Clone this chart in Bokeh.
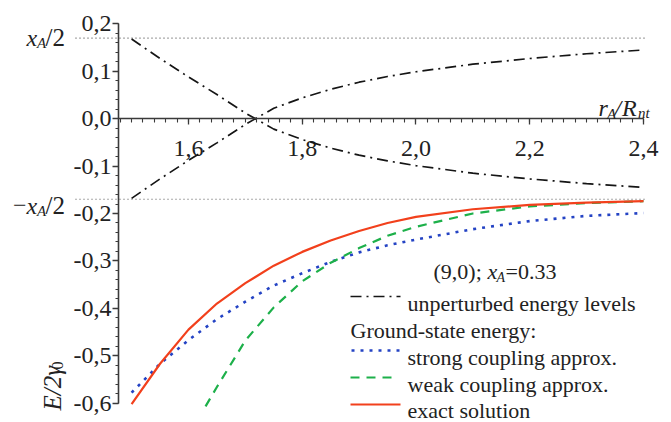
import numpy as np
from bokeh.plotting import figure
from bokeh.models import LinearAxis, FixedTicker, Range1d, Label
from bokeh.core.properties import value
from bokeh.embed import file_html
from bokeh.resources import INLINE

# ---------------- data ----------------
r_levels = [1.5, 1.55, 1.6, 1.65, 1.7, 1.75, 1.8, 1.85, 1.9, 1.95, 2.0, 2.1, 2.2, 2.3, 2.4]
level_rising = [-0.168, -0.127, -0.088, -0.051, -0.012, 0.022, 0.044, 0.062, 0.077, 0.089,
                0.099, 0.115, 0.127, 0.137, 0.145]
level_falling = [0.168, 0.127, 0.088, 0.051, 0.012, -0.022, -0.044, -0.062, -0.077, -0.089,
                 -0.099, -0.115, -0.127, -0.137, -0.145]

r_ground = [1.5, 1.55, 1.6, 1.65, 1.7, 1.75, 1.8, 1.85, 1.9, 1.95, 2.0, 2.1, 2.2, 2.3, 2.4]
strong_coupling = [-0.578, -0.517, -0.467, -0.423, -0.386, -0.352, -0.326, -0.302, -0.282,
                   -0.267, -0.255, -0.233, -0.216, -0.205, -0.199]
exact_solution = [-0.602, -0.517, -0.445, -0.390, -0.347, -0.310, -0.281, -0.257, -0.237,
                  -0.220, -0.207, -0.191, -0.182, -0.177, -0.174]
r_weak = [1.63, 1.65, 1.7, 1.75, 1.8, 1.85, 1.9, 1.95, 2.0, 2.1, 2.2, 2.3, 2.4]
weak_coupling = [-0.607, -0.566, -0.468, -0.398, -0.343, -0.304, -0.273, -0.247, -0.228,
                 -0.200, -0.185, -0.178, -0.174]

xA_half = 0.17
x_ticks = [1.6, 1.8, 2.0, 2.2, 2.4]
x_tick_labels = ["1,6", "1,8", "2,0", "2,2", "2,4"]
y_ticks = [0.2, 0.1, 0.0, -0.1, -0.2, -0.3, -0.4, -0.5, -0.6]
y_tick_labels = ["0,2", "0,1", "0,0", "-0,1", "-0,2", "-0,3", "-0,4", "-0,5", "-0,6"]
x_minor = [round(v, 2) for v in np.arange(1.48, 2.4001, 0.02)]
y_minor = [round(v, 2) for v in np.arange(-0.6, 0.2001, 0.02)]
y_axis_at = 1.477
x_axis_at = 0.0

# ---------------- layout (canvas pixels) ----------------
W, H = 671, 422
FL, FR, FT, FB = 12, 665, 12, 420         # frame edges
PX_X15, PX_PER_X = 131.1, 568.75          # pixel of r=1.5, pixels per unit
PX_Y0, PX_PER_Y = 118.2, 474.0            # pixel of E=0, pixels per unit
X0 = 1.5 - (PX_X15 - FL) / PX_PER_X
X1 = 1.5 + (FR - PX_X15) / PX_PER_X
Y1 = (PX_Y0 - FT) / PX_PER_Y
Y0 = -(FB - PX_Y0) / PX_PER_Y


def dx(px):
    return X0 + (px - FL) * (X1 - X0) / (FR - FL)


def dy(py):
    return Y1 - (py - FT) * (Y1 - Y0) / (FB - FT)


FONT = "Liberation Serif"
TXT = "#222222"
AX = "#3a3a3a"

p = figure(width=W, height=H, output_backend="svg", toolbar_location=None, title=None,
           x_range=Range1d(X0, X1), y_range=Range1d(Y0, Y1),
           x_axis_type=None, y_axis_type=None,
           min_border_left=FL, min_border_right=W - FR, min_border_top=FT,
           min_border_bottom=H - FB)
p.outline_line_color = None
p.background_fill_color = "white"
p.border_fill_color = "white"


def make_axis(loc, bnds, ticks, t_out, t_in, show_line):
    return LinearAxis(fixed_location=loc, bounds=bnds,
                      ticker=FixedTicker(ticks=[], minor_ticks=ticks),
                      axis_line_color=AX if show_line else None, axis_line_width=1.6,
                      major_tick_line_color=None, major_tick_in=0, major_tick_out=0,
                      minor_tick_line_color=AX,
                      minor_tick_line_width=1.3 if max(t_out, t_in) > 4 else 1.1,
                      minor_tick_in=t_in, minor_tick_out=t_out,
                      major_label_standoff=0, axis_label_standoff=0,
                      major_label_text_font_size="10px")


# y axis: long ticks at the labelled values, short ticks every 0.02 (both point left)
p.add_layout(make_axis(y_axis_at, (-0.6, 0.2), y_ticks, 6, 0, True), "left")
p.add_layout(make_axis(y_axis_at, (-0.6, 0.2), y_minor, 0, 3, False), "right")
# x axis at E = 0, all ticks pointing down (inward ticks of top-side axes)
p.add_layout(make_axis(x_axis_at, (y_axis_at, 2.4), x_ticks, 0, 6, True), "above")
p.add_layout(make_axis(x_axis_at, (y_axis_at, 2.4), x_minor, 0, 4, False), "above")

# tick labels
p.text(x=x_ticks, y=[dy(148)] * len(x_ticks), text=x_tick_labels,
       text_align="center", text_baseline="alphabetic",
       text_font=value(FONT), text_font_size="24px", text_color=TXT)
p.text(x=[dx(111)] * len(y_ticks), y=y_ticks, text=y_tick_labels,
       text_align="right", text_baseline="middle",
       text_font=value(FONT), text_font_size="24px", text_color=TXT)

# dotted reference levels +-x_A/2
for yv in (xA_half, -xA_half):
    p.line(x=[dx(75), dx(647)], y=[yv, yv], line_color="#555555", line_width=1.1,
           line_dash="1 3")

# unperturbed levels
DASHDOT = "11 5 2 5"
p.line(r_levels, level_rising, line_color="#151515", line_width=1.7, line_dash=DASHDOT)
p.line(r_levels, level_falling, line_color="#151515", line_width=1.7, line_dash=DASHDOT)

BLUE, GREEN, RED = "#2443c4", "#1db04a", "#f2401c"
DOTS = "3 6"
DASH = "9 7"
p.line(r_ground, strong_coupling, line_color=BLUE, line_width=2.6, line_dash=DOTS)
p.line(r_weak, weak_coupling, line_color=GREEN, line_width=2.2, line_dash=DASH)
p.line(r_ground, exact_solution, line_color=RED, line_width=2.2)


def lab(text, px, py, size="22px", style="normal", align="left", angle=0.0):
    p.add_layout(Label(x=dx(px), y=dy(py), text=text, text_font=FONT, text_font_size=size,
                       text_font_style=style, text_align=align, text_baseline="alphabetic",
                       text_color=TXT, angle=angle))


# +-x_A/2 labels
lab("x", 26, 37, "24px", "italic")
lab("A", 36.5, 42, "15px", "italic")
lab("/2", 45, 37, "25px")
lab("\u2212", 12.5, 205, "24px")
lab("x", 26, 205, "24px", "italic")
lab("A", 36.5, 210, "15px", "italic")
lab("/2", 45, 205, "25px")

# x axis title r_A / R_nt
lab("r", 598, 107, "24px", "italic")
lab("A", 606.5, 113, "15px", "italic")
lab("/", 614, 107, "24px", "italic")
lab("R", 621.5, 107, "24px", "italic")
lab("nt", 637.5, 112, "15px", "italic")

# y axis title E/2gamma_0 (rotated)
lab("E/2\u03b3", 52, 410, "25px", "italic", angle=np.pi / 2)
lab("0", 57, 369, "16px", "normal", angle=np.pi / 2)

# legend block
lab("(9,0); ", 433, 271, "22px")
lab("x", 487, 271, "22px", "italic")
lab("A", 496, 277, "14px", "italic")
lab("=0.33", 505, 271, "22px")

p.line(x=[dx(350), dx(400)], y=[dy(296)] * 2, line_color="#151515", line_width=1.7,
       line_dash=DASHDOT)
lab("unperturbed energy levels", 407, 303)
lab("Ground-state energy:", 350, 330)
p.line(x=[dx(351), dx(400)], y=[dy(350)] * 2, line_color=BLUE, line_width=2.6,
       line_dash=DOTS)
lab("strong coupling approx.", 407, 357)
p.line(x=[dx(350), dx(398)], y=[dy(377)] * 2, line_color=GREEN, line_width=2.2,
       line_dash=DASH)
lab("weak coupling approx.", 407, 384)
p.line(x=[dx(350), dx(400)], y=[dy(404)] * 2, line_color=RED, line_width=2.2)
lab("exact solution", 407, 410)

open("out.html", "w").write(file_html(p, INLINE))
